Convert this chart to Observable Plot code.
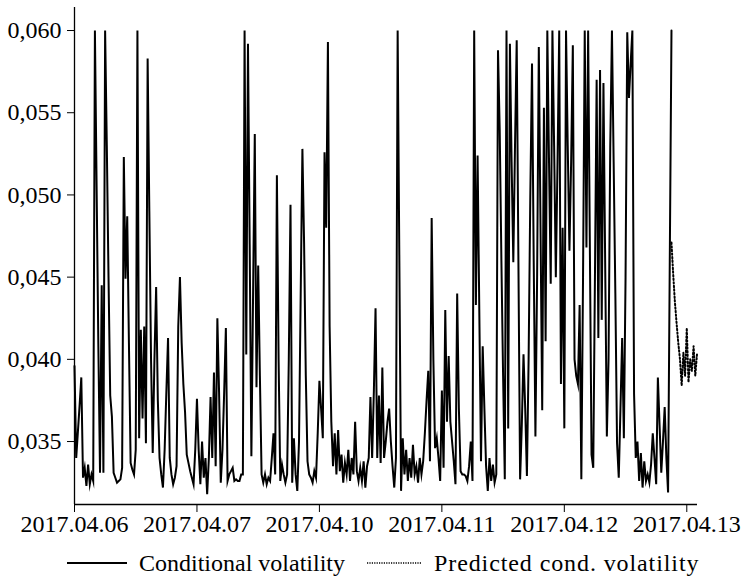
<!DOCTYPE html>
<html><head><meta charset="utf-8">
<script src="https://cdn.jsdelivr.net/npm/d3@7"></script>
<script src="https://cdn.jsdelivr.net/npm/@observablehq/plot@0.6"></script>
<style>
body{margin:0;background:#fff;font-family:"Liberation Serif","Tinos","Times New Roman","Nimbus Roman","DejaVu Serif",serif;}
#legend{display:flex;align-items:center;height:30px;margin-top:3px;padding-left:67px;font-size:24px;color:#000;white-space:nowrap;}
#legend svg{display:block}
#legend .pred{letter-spacing:0.9px}
</style></head><body>
<div id="chart"></div>
<div id="legend"></div>
<script>
const dateLabels = ["2017.04.06","2017.04.07","2017.04.10","2017.04.11","2017.04.12","2017.04.13"];
const dateTickIndex = [0,72,144,216,288,360];
const yTicks = [0.035,0.040,0.045,0.050,0.055,0.060];
const seriesNames = ["Conditional volatility","Predicted cond. volatility"];

const conditionalVolatility = [
0.0396,0.0340,0.0356,0.0372,0.0389,0.0328,0.0334,0.0323,0.0336,0.0324,
0.0330,0.0326,0.0600,0.0505,0.0410,0.0331,0.0445,0.0331,0.0600,0.0530,
0.0450,0.0378,0.0365,0.0331,0.0328,0.0325,0.0326,0.0327,0.0334,0.0523,
0.0449,0.0487,0.0410,0.0337,0.0333,0.0330,0.0345,0.0600,0.0352,0.0418,
0.0364,0.0420,0.0349,0.0583,0.0490,0.0400,0.0343,0.0400,0.0444,0.0375,
0.0340,0.0330,0.0322,0.0345,0.0380,0.0413,0.0340,0.0330,0.0324,0.0328,
0.0335,0.0420,0.0450,0.0410,0.0385,0.0368,0.0342,0.0337,0.0332,0.0328,
0.0324,0.0345,0.0376,0.0345,0.0324,0.0350,0.0328,0.0340,0.0318,0.0340,
0.0377,0.0340,0.0392,0.0335,0.0425,0.0380,0.0325,0.0345,0.0380,0.0419,
0.0326,0.0330,0.0332,0.0334,0.0326,0.0327,0.0326,0.0326,0.0330,0.0330,
0.0600,0.0403,0.0592,0.0470,0.0341,0.0440,0.0537,0.0383,0.0457,0.0390,
0.0330,0.0325,0.0330,0.0324,0.0328,0.0326,0.0340,0.0355,0.0330,0.0512,
0.0400,0.0326,0.0336,0.0330,0.0325,0.0330,0.0400,0.0494,0.0325,0.0352,
0.0330,0.0320,0.0350,0.0440,0.0528,0.0470,0.0390,0.0338,0.0330,0.0328,
0.0325,0.0332,0.0328,0.0355,0.0387,0.0370,0.0352,0.0526,0.0480,0.0593,
0.0420,0.0362,0.0335,0.0355,0.0330,0.0357,0.0332,0.0342,0.0325,0.0337,
0.0330,0.0345,0.0326,0.0340,0.0330,0.0362,0.0332,0.0326,0.0334,0.0326,
0.0338,0.0322,0.0335,0.0340,0.0377,0.0340,0.0380,0.0431,0.0340,0.0378,
0.0337,0.0395,0.0340,0.0350,0.0362,0.0370,0.0350,0.0335,0.0322,0.0340,
0.0600,0.0460,0.0320,0.0352,0.0330,0.0345,0.0326,0.0340,0.0328,0.0348,
0.0330,0.0335,0.0325,0.0340,0.0330,0.0338,0.0355,0.0375,0.0393,0.0338,
0.0486,0.0400,0.0346,0.0352,0.0340,0.0326,0.0381,0.0334,0.0430,0.0362,
0.0402,0.0362,0.0350,0.0338,0.0324,0.0440,0.0370,0.0332,0.0330,0.0330,
0.0329,0.0326,0.0335,0.0350,0.0326,0.0600,0.0433,0.0524,0.0430,0.0338,
0.0408,0.0370,0.0335,0.0320,0.0340,0.0326,0.0336,0.0325,0.0330,0.0588,
0.0540,0.0460,0.0390,0.0327,0.0600,0.0358,0.0592,0.0520,0.0459,0.0530,
0.0594,0.0460,0.0327,0.0360,0.0403,0.0370,0.0329,0.0400,0.0500,0.0580,
0.0460,0.0353,0.0450,0.0590,0.0480,0.0369,0.0553,0.0411,0.0600,0.0520,
0.0446,0.0600,0.0530,0.0450,0.0520,0.0600,0.0385,0.0480,0.0358,0.0600,
0.0530,0.0466,0.0520,0.0591,0.0400,0.0390,0.0385,0.0433,0.0327,0.0450,
0.0600,0.0468,0.0600,0.0470,0.0342,0.0334,0.0450,0.0570,0.0413,0.0576,
0.0424,0.0568,0.0460,0.0353,0.0400,0.0530,0.0600,0.0520,0.0440,0.0349,
0.0328,0.0370,0.0413,0.0352,0.0450,0.0599,0.0559,0.0580,0.0600,0.0379,
0.0340,0.0350,0.0326,0.0343,0.0322,0.0338,0.0326,0.0330,0.0325,0.0336,
0.0355,0.0340,0.0324,0.0389,0.0360,0.0331,0.0350,0.0371,0.0340,0.0319,
0.0460,0.0600
];
const predictedStart = 351;
const predictedVolatility = [
0.0471,0.0452,0.0435,0.0422,0.0410,0.0400,0.0384,0.0404,0.0390,0.0419,
0.0386,0.0400,0.0393,0.0408,0.0390,0.0403
];

const xDomain = [0, 366.3];
const yDomain = [0.03117, 0.0614];
const serif = '"Liberation Serif","Tinos","Times New Roman","Nimbus Roman","DejaVu Serif",serif';

const condData = conditionalVolatility.map((v, i) => ({i, v}));
const predData = predictedVolatility.map((v, k) => ({i: predictedStart + k, v}));

const fmt = d => d.toFixed(3).replace(".", ",");

const chart = Plot.plot({
  width: 746,
  height: 545,
  marginLeft: 74,
  marginRight: 49,
  marginTop: 7,
  marginBottom: 41,
  style: {fontFamily: serif, fontSize: "24px", color: "#000", background: "#fff", overflow: "visible"},
  x: {domain: xDomain, ticks: dateTickIndex, tickFormat: d => dateLabels[dateTickIndex.indexOf(d)], tickSize: 8, tickPadding: 2, label: null},
  y: {domain: yDomain, ticks: yTicks, tickFormat: fmt, tickSize: 7, tickPadding: 6, label: null},
  marks: [
    Plot.ruleX([xDomain[0]], {stroke: "#000", strokeWidth: 1.3}),
    Plot.ruleY([yDomain[0]], {stroke: "#000", strokeWidth: 1.3}),
    Plot.lineY(condData, {x: "i", y: "v", stroke: "#000", strokeWidth: 2, strokeLinejoin: "miter", strokeMiterlimit: 10}),
    Plot.lineY(predData, {x: "i", y: "v", stroke: "#000", strokeWidth: 2, strokeDasharray: "1.4,2.2"})
  ]
});
chart.querySelectorAll("text").forEach(t => t.style.fontFamily = serif);
document.getElementById("chart").appendChild(chart);

const legend = document.getElementById("legend");
const ns = "http://www.w3.org/2000/svg";
function sample(w, dash, ml) {
  const s = document.createElementNS(ns, "svg");
  s.setAttribute("width", w); s.setAttribute("height", 10);
  s.style.marginLeft = ml + "px"; s.style.marginRight = "12px";
  const l = document.createElementNS(ns, "line");
  l.setAttribute("x1", 0); l.setAttribute("x2", w); l.setAttribute("y1", 5); l.setAttribute("y2", 5);
  l.setAttribute("stroke", "#000"); l.setAttribute("stroke-width", dash ? 1.6 : 2);
  if (dash) l.setAttribute("stroke-dasharray", dash);
  s.appendChild(l);
  return s;
}
legend.appendChild(sample(60, null, 0));
const t1 = document.createElement("span"); t1.textContent = seriesNames[0]; legend.appendChild(t1);
legend.appendChild(sample(55, "1.2,1.2", 22));
const t2 = document.createElement("span"); t2.className = "pred"; t2.textContent = seriesNames[1]; legend.appendChild(t2);
</script>
</body></html>
